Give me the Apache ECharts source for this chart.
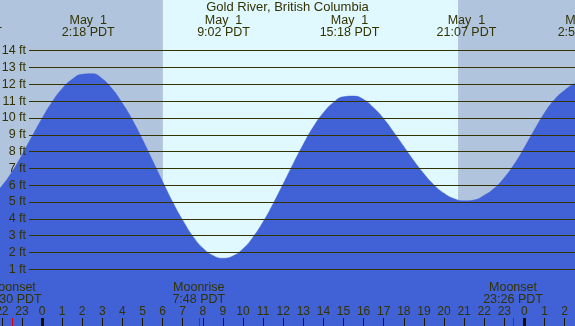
<!DOCTYPE html>
<html><head><meta charset="utf-8">
<script src="https://cdn.jsdelivr.net/npm/echarts@6/dist/echarts.min.js"></script>
<style>html,body{margin:0;padding:0;background:#fff}#c{width:575px;height:326px}</style>
</head><body><div id="c"></div>
<script>
// ---- data ----
const tideHours = [-3.5,-3,-2.5,-2,-1.5,-1,-0.5,0,0.5,1,1.5,2,2.5,3,3.5,4,4.5,5,5.5,6,6.5,7,7.5,8,8.5,9,9.5,10,10.5,11,11.5,12,12.5,13,13.5,14,14.5,15,15.5,16,16.5,17,17.5,18,18.5,19,19.5,20,20.5,21,21.5,22,22.5,23,23.5,24,24.5,25,25.5,26,26.5,27,27.5];
const tideFeet  = [4.8,4.93,5.3,5.95,6.78,7.8,8.9,9.97,10.95,11.74,12.3,12.6,12.63,12.33,11.72,10.87,9.88,8.72,7.47,6.22,5.0,3.92,2.97,2.26,1.82,1.655,1.79,2.22,2.91,3.82,4.9,6.08,7.28,8.43,9.47,10.31,10.92,11.26,11.3,11.1,10.6,9.95,9.15,8.3,7.45,6.68,6.02,5.52,5.2,5.07,5.12,5.4,5.82,6.45,7.26,8.25,9.3,10.3,11.1,11.65,12.04,12.2,12.1];
const extremeTimes  = [-3.48, 2.3, 9.033, 15.3, 21.117, 26.967];
const extremeDates  = ['Apr 30','May  1','May  1','May  1','May  1','May  2'];
const extremeClocks = ['20:31','2:18','9:02','15:18','21:07','2:58'];
const moonTimes  = [-1.5, 7.8, 23.433];
const moonEvents = ['Moonset','Moonrise','Moonset'];
const moonClocks = ['22:30','7:48','23:26'];
const sunTimes = [6.017, 20.7];   // sunrise, sunset
const midnights = [0, 24];
const hourRange = [-4, 28];
const feetRange = [1, 14];

// ---- styling ----
const FONT = 'Liberation Sans';
const TXT = '#333300';
const NIGHT = '#b0c4de', DAY = '#e0f8ff', BLUE = '#4161d6';
const Y_MIN = -2.373, Y_MAX = 17.015;
const dataGrid = {left: -38.4, right: -29.8, top: 0, bottom: 0, containLabel:false, outerBoundsMode:'none'};

function idxOf(arr, v){ let b=0, d=1e9; arr.forEach((a,i)=>{ if(Math.abs(a-v)<d){d=Math.abs(a-v);b=i;} }); return b; }

const chart = echarts.init(document.getElementById('c'), null, {renderer:'canvas'});
const hiddenY = i => ({type:'value', gridIndex:i, min:Y_MIN, max:Y_MAX, show:false});
const noLine = {show:false, onZero:false};
chart.setOption({
  animation:false,
  backgroundColor:'#ffffff',
  title:{text:'Gold River, British Columbia', left:'center', top:1, padding:0,
    textStyle:{fontFamily:FONT, fontSize:13, fontWeight:'normal', color:TXT}},
  grid:[Object.assign({},dataGrid), Object.assign({},dataGrid), Object.assign({},dataGrid),
        {left:29, right:0, top:50.69, bottom:56.7, containLabel:false, outerBoundsMode:'none'}],
  xAxis:[
    {type:'value', gridIndex:0, position:'bottom', min:hourRange[0], max:hourRange[1], interval:1, z:5,
     axisLine:noLine, splitLine:{show:false},
     axisTick:{inside:true, length:8, lineStyle:{color:'#1a1a00', width:1}},
     axisLabel:{inside:true, margin:8, color:TXT, fontFamily:FONT, fontSize:12,
       formatter:v=>String(((v%24)+24)%24)}},
    {type:'value', gridIndex:0, position:'top', min:hourRange[0], max:hourRange[1], z:5,
     axisLine:noLine, splitLine:{show:false}, axisTick:{show:false},
     axisLabel:{inside:true, margin:15, customValues:extremeTimes, color:TXT, fontFamily:FONT,
       fontSize:12.5, lineHeight:12, align:'center',
       formatter:v=>{const i=idxOf(extremeTimes,v); return extremeDates[i]+'\n'+extremeClocks[i]+' PDT';}}},
    {type:'value', gridIndex:1, position:'bottom', min:hourRange[0], max:hourRange[1], z:6,
     axisLine:noLine, splitLine:{show:false},
     axisTick:{inside:true, length:8, customValues:moonTimes, lineStyle:{color:'#e00000', width:1}},
     axisLabel:{inside:true, margin:20, customValues:moonTimes, color:TXT, fontFamily:FONT,
       fontSize:12.5, lineHeight:12, align:'center',
       formatter:v=>{const i=idxOf(moonTimes,v); return moonEvents[i]+'\n'+moonClocks[i]+' PDT';}}},
    {type:'value', gridIndex:2, position:'bottom', min:hourRange[0], max:hourRange[1], z:6,
     axisLine:noLine, splitLine:{show:false}, axisLabel:{show:false},
     axisTick:{inside:true, length:8, customValues:midnights, lineStyle:{color:'#111100', width:3}}},
    {type:'value', gridIndex:3, min:0, max:1, show:false}
  ],
  yAxis:[hiddenY(0), hiddenY(1), hiddenY(2),
    {type:'value', gridIndex:3, min:feetRange[0], max:feetRange[1], interval:1, z:5,
     axisLine:noLine, axisTick:{show:false},
     splitLine:{show:true, lineStyle:{color:'#333300', width:1}},
     axisLabel:{formatter:'{value} ft', margin:3, color:TXT, fontFamily:FONT, fontSize:12.5}}
  ],
  series:[
    {type:'line', xAxisIndex:0, yAxisIndex:0, z:1, symbol:'none', data:[[-10,-10]], silent:true,
     markArea:{silent:true, label:{show:false},
       data:[
         [{xAxis:hourRange[0], itemStyle:{color:NIGHT, opacity:1}}, {xAxis:sunTimes[0]}],
         [{xAxis:sunTimes[0], itemStyle:{color:DAY, opacity:1}}, {xAxis:sunTimes[1]}],
         [{xAxis:sunTimes[1], itemStyle:{color:NIGHT, opacity:1}}, {xAxis:hourRange[1]}]
       ]}},
    {type:'line', xAxisIndex:0, yAxisIndex:0, z:2, symbol:'none', smooth:0.5, silent:true,
     lineStyle:{color:BLUE, width:0.5}, areaStyle:{color:BLUE, opacity:1, origin:'start'},
     data:tideHours.map((h,i)=>[h, tideFeet[i]])}
  ]
});
</script></body></html>
